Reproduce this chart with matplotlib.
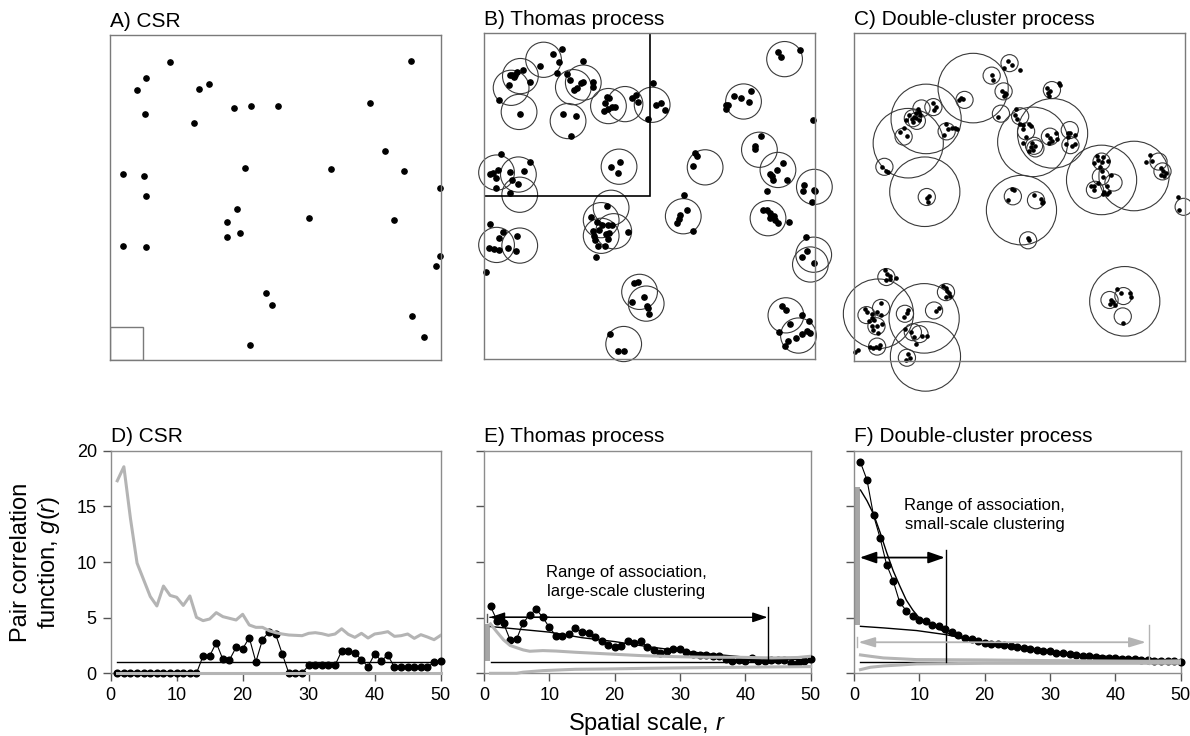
import matplotlib
matplotlib.use('Agg')
import matplotlib.pyplot as plt
from matplotlib.patches import Circle, Rectangle

plt.rcParams['font.family'] = ['Liberation Sans', 'DejaVu Sans']
plt.rcParams['mathtext.fontset'] = 'custom'
plt.rcParams['mathtext.rm'] = 'Liberation Sans'
plt.rcParams['mathtext.it'] = 'Liberation Sans:italic'

# ---------------- top row: point patterns in a 50 x 50 plot ----------------
# CSR points (also the parent points of the Thomas clusters)
csr_x = [9.0, 45.4, 5.5, 4.1, 13.5, 15.0, 18.8, 21.3, 25.4, 39.2, 5.3, 12.7, 41.6, 1.9, 5.2, 20.4, 33.4, 44.4,
         49.9, 5.4, 19.2, 30.1, 17.7, 42.9, 19.6, 17.7, 1.9, 5.4, 49.8, 49.3, 23.5, 24.5, 45.6, 47.5, 21.1]
csr_y = [45.9, 46.0, 43.4, 41.6, 41.7, 42.4, 38.8, 39.1, 39.0, 39.5, 37.9, 36.5, 32.1, 28.6, 28.3, 29.5, 29.4, 29.0,
         26.4, 25.2, 23.2, 21.9, 21.3, 21.6, 19.6, 18.9, 17.5, 17.4, 16.0, 14.5, 10.3, 8.5, 6.7, 3.6, 2.3]

thomas_x = [11.8, 10.5, 11.3, 8.5, 11.1,
            3.9, 4.3, 4.7, 5.0, 4.6, 5.9, 7.0, 3.8, 2.3,
            5.5,
            14.9, 12.5, 13.0, 14.7, 14.9, 14.0, 13.6, 16.4, 16.4,
            11.9, 13.9, 13.1,
            25.5, 18.6, 18.9, 18.3, 18.8, 18.2, 19.3, 19.8, 22.4, 23.0, 23.3,
            26.0, 26.7, 27.3, 24.8,
            20.5, 19.2, 20.2,
            2.5, 7.0, 0.9, 1.4, 2.1, 1.8, 4.0, 6.1, 4.3, 5.1, 4.0, 1.8,
            18.6, 16.1, 17.0, 17.9, 18.7, 19.3, 16.4, 17.3, 16.6, 16.7, 18.4, 18.9, 21.8, 17.2, 18.3, 16.9, 18.8,
            0.9, 2.8, 2.3, 5.0, 0.8, 1.5, 2.3, 3.7, 4.9,
            0.3,
            22.6, 23.3, 24.2, 22.4, 24.6, 24.8, 24.9,
            19.1, 20.3, 21.1,
            31.9, 32.2, 31.5,
            30.2, 30.7, 29.6, 29.5, 29.2, 31.6,
            40.3, 37.7, 38.8, 40.0, 36.5, 36.9, 36.5,
            47.7, 44.4, 44.8,
            49.7,
            41.8, 40.9, 41.0, 45.1, 44.3, 43.2, 43.5, 45.8, 43.6,
            48.3, 48.2, 49.8, 50.0, 49.6,
            42.7,
            42.2, 42.8, 43.2, 43.4, 43.8, 43.2, 44.0, 44.4, 46.0,
            48.6, 48.8, 48.1, 49.8,
            45.0, 45.6, 48.1, 49.1, 46.2, 44.5, 48.8, 49.3, 48.1, 47.2, 45.9, 45.4]
thomas_y = [47.6, 46.8, 45.6, 44.9, 43.9,
            43.5, 43.5, 43.5, 44.0, 43.3, 44.4, 42.5, 42.0, 39.8,
            37.6,
            45.7, 43.7, 42.8, 42.3, 42.5, 41.6, 41.2, 42.5, 41.7,
            37.6, 37.2, 34.2,
            42.3, 40.2, 40.0, 39.3, 38.3, 38.1, 38.7, 38.7, 40.1, 40.5, 39.4,
            38.9, 39.2, 38.2, 36.8,
            30.2, 29.5, 28.5,
            31.4, 30.2, 28.4, 28.5, 29.0, 27.7, 28.7, 28.9, 27.4, 26.9, 25.4, 26.2,
            23.4, 21.8, 21.0, 20.6, 20.5, 20.5, 19.6, 19.8, 18.8, 18.3, 19.1, 19.3, 19.5, 17.4, 17.4, 15.7, 18.4,
            20.7, 19.5, 18.6, 18.9, 17.0, 16.9, 16.7, 17.0, 16.5,
            13.3,
            11.6, 11.8, 9.5, 8.8, 8.2, 7.8, 6.9,
            3.9, 1.3, 1.2,
            31.6, 31.1, 29.6,
            25.1, 22.8, 22.1, 21.5, 20.9, 19.7,
            41.1, 40.3, 40.0, 39.4, 39.0, 38.9, 38.3,
            47.4, 47.1, 46.3,
            36.7,
            34.2, 32.6, 32.2, 30.0, 29.0, 28.4, 28.0, 27.5, 27.4,
            26.7, 25.7, 26.0, 25.8, 24.1,
            25.7,
            22.8, 22.9, 22.4, 22.0, 21.9, 21.6, 21.3, 20.9, 21.0,
            18.7, 16.5, 15.7, 14.8,
            8.2, 7.5, 6.7, 5.9, 5.4, 4.2, 4.3, 4.0, 3.9, 3.2, 2.7, 2.0]

# double-cluster process: large and small cluster circles, points
big_x = [18.0, 10.9, 8.2, 10.7, 27.0, 30.0, 37.4, 42.3, 25.3, 40.9, 3.7, 10.6, 10.8]
big_y = [41.6, 36.9, 33.2, 25.8, 33.4, 34.7, 27.6, 28.2, 23.0, 9.1, 7.2, 6.5, 0.7]
small_x = [23.5, 20.8, 22.6, 16.7, 22.2, 10.2, 12.0, 8.9, 9.5, 7.5, 14.0, 4.6, 11.0, 29.9, 25.1, 26.0, 29.6,
           27.4, 27.2, 32.6, 32.7, 37.4, 46.0, 46.6, 37.3, 39.2, 36.4, 49.8, 24.0, 27.5, 26.3, 4.9, 13.9, 1.9,
           4.1, 3.4, 7.7, 8.9, 9.9, 3.5, 8.0, 12.1, 38.6, 40.7, 40.6]
small_y = [45.4, 43.5, 41.1, 39.8, 37.7, 38.5, 38.7, 37.0, 36.6, 34.2, 35.0, 29.6, 25.0, 41.3, 37.3, 35.0, 34.2,
           32.4, 32.8, 35.2, 32.9, 30.4, 30.4, 28.9, 28.1, 27.2, 26.1, 23.5, 25.1, 24.5, 18.4, 12.8, 10.5, 7.0,
           8.1, 5.3, 7.2, 4.4, 4.1, 2.2, 0.5, 7.7, 9.3, 9.9, 6.8]
dc_x = [23.3, 23.8, 22.7, 25.1, 20.8, 21.0, 22.4, 22.8, 22.6, 23.0, 16.1, 16.4, 15.9, 21.8, 24.5, 24.3, 24.6,
        11.9, 12.4, 12.1,
        9.6, 9.8, 9.3, 10.0, 9.1, 9.4, 9.9, 8.7, 8.9, 7.8, 7.5, 6.9, 8.0, 8.3,
        13.9, 14.2, 14.8, 15.2, 15.6, 13.6,
        4.2, 4.8, 5.2,
        11.4, 11.0, 11.2,
        29.2, 29.6, 29.3, 29.5, 30.9, 31.1,
        25.1, 25.5, 26.4, 26.7, 25.5, 26.0, 25.6, 26.9, 26.7, 26.5, 27.1, 27.4,
        29.1, 29.6, 29.9, 29.4, 30.5, 30.7,
        32.3, 32.7, 32.4, 33.4, 32.1, 32.9, 33.4,
        36.7, 36.9, 36.2, 37.4, 37.6, 38.3, 37.1, 37.4, 38.8, 37.6, 36.9, 38.2, 36.2, 35.8, 36.3, 37.8, 38.2,
        37.6, 38.5,
        44.7, 44.1, 45.0, 46.3, 46.7, 47.2, 46.3, 46.8,
        49.0, 49.1,
        23.2, 23.8, 24.2,
        27.2, 28.2, 28.6, 28.4,
        26.3, 26.4,
        4.7, 5.0, 5.4, 5.5, 6.4, 4.9,
        13.5, 13.9, 14.1, 14.3, 14.5, 13.9,
        12.8, 12.4,
        8.1, 8.0, 7.6,
        1.7, 2.0, 2.8, 3.5, 4.1, 2.8, 3.1, 2.3, 4.2, 3.5, 2.7, 2.9, 3.7, 4.1,
        2.5, 2.9, 3.4, 3.8, 4.0,
        7.7, 8.6, 9.1, 10.3, 11.0, 9.4,
        0.6, 0.2,
        8.1, 8.4, 7.9,
        39.8, 40.4, 38.8, 39.2, 38.6, 39.5, 41.7, 41.9, 40.7]
dc_y = [45.7, 45.1, 44.7, 44.3, 43.6, 42.9, 41.2, 40.8, 40.4, 40.7, 40.1, 39.9, 39.8, 37.2, 38.4, 37.5, 36.9,
        39.3, 38.7, 38.3,
        38.4, 38.0, 37.8, 37.5, 37.2, 37.0, 36.8, 36.9, 36.4, 36.8, 35.5, 34.9, 34.3, 37.5,
        36.1, 35.4, 35.5, 35.5, 35.4, 34.4,
        29.5, 29.0, 28.8,
        25.1, 24.8, 24.2,
        41.6, 41.2, 40.8, 40.4, 42.3, 42.0,
        36.1, 35.9, 36.2, 35.8, 35.3, 34.2, 33.3, 33.3, 32.6, 32.0, 32.2, 32.8,
        34.5, 34.0, 33.6, 33.3, 34.7, 33.9,
        34.8, 34.7, 34.2, 34.4, 33.1, 32.7, 33.1,
        31.2, 30.6, 30.2, 30.4, 31.1, 30.5, 29.6, 28.9, 28.4, 28.1, 27.2, 26.7, 26.7, 26.6, 26.0, 25.7, 25.5,
        25.5, 25.7,
        31.4, 30.4, 30.5, 29.4, 28.9, 28.7, 28.4, 28.2,
        25.0, 23.0,
        24.5, 26.2, 26.0,
        25.3, 24.7, 24.3, 24.1,
        18.7, 18.4,
        13.8, 13.3, 12.9, 12.5, 12.6, 12.4,
        11.4, 11.2, 10.7, 10.3, 9.9, 9.8,
        8.1, 7.6,
        7.8, 7.3, 6.7,
        7.9, 7.4, 7.2, 7.5, 7.0, 6.6, 6.3, 6.1, 5.6, 5.3, 5.3, 4.7, 4.3, 8.9,
        2.1, 2.0, 2.2, 2.0, 2.4,
        4.9, 4.4, 3.6, 3.8, 3.8, 2.6,
        1.7, 1.4,
        1.0, 0.4, 0.1,
        10.9, 10.4, 9.3, 9.0, 8.7, 8.5, 10.3, 9.7, 5.8]

# ---------------- bottom row: pair correlation functions ----------------
r = list(range(1, 51))

csr_obs = [0] * 13 + [1.56, 1.56, 2.75, 1.26, 1.2, 2.33, 2.2, 3.2, 1.02, 3.02, 3.74, 3.5, 1.74,
                      0, 0, 0, 0.72, 0.72, 0.72, 0.72, 0.72, 2.0, 2.0, 1.86, 1.2, 0.6, 1.74, 1.14, 1.62,
                      0.54, 0.54, 0.54, 0.54, 0.54, 0.54, 1.0, 1.14]
csr_hi = [17.3, 18.56, 13.9, 9.9, 8.4, 6.9, 6.05, 7.84, 7.0, 6.83,
          6.1, 6.95, 5.03, 4.73, 4.88, 5.45, 5.09, 4.94, 4.79, 5.3,
          4.34, 4.13, 4.13, 3.83, 3.65, 3.53, 3.44, 3.41, 3.38, 3.59,
          3.65, 3.56, 3.41, 3.53, 4.0, 3.5, 3.23, 3.59, 3.17, 3.53,
          3.62, 3.74, 3.32, 3.38, 3.53, 3.14, 3.47, 3.26, 3.02, 3.41]
csr_lo = [0] * 50

thomas_obs = [6.02, 4.73, 4.49, 3.0, 3.08, 4.55, 5.24, 5.75, 5.03, 4.13,
              3.38, 3.32, 3.53, 4.07, 3.68, 3.59, 3.29, 2.87, 2.54, 2.34,
              2.46, 2.87, 2.69, 2.87, 2.4, 2.1, 1.86, 1.98, 2.22, 2.19,
              1.92, 1.74, 1.65, 1.62, 1.56, 1.53, 1.29, 1.11, 1.17, 1.14,
              1.41, 1.11, 1.08, 1.17, 1.2, 1.17, 0.93, 0.93, 1.14, 1.26]
thomas_fit_r = [1, 5, 10, 15, 20, 25, 30, 35, 40, 45, 50]
thomas_fit = [4.2, 3.98, 3.7, 3.2, 2.85, 2.4, 2.02, 1.72, 1.45, 1.3, 1.2]
thomas_hi_r = [1, 2, 3, 4, 6, 7, 9, 11, 14, 19, 24, 29, 34, 39, 44, 48, 50]
thomas_hi = [4.44, 3.7, 3.0, 2.5, 2.1, 1.98, 2.04, 2.0, 1.89, 1.74, 1.59, 1.5, 1.44, 1.44, 1.38, 1.42, 1.53]
thomas_lo_r = [1, 5, 6, 9, 14, 19, 24, 29, 34, 39, 44, 50]
thomas_lo = [0, 0, 0.1, 0.24, 0.36, 0.39, 0.44, 0.48, 0.51, 0.54, 0.57, 0.6]

dc_obs = [18.95, 17.37, 14.19, 12.16, 9.76, 8.32, 6.38, 5.63, 5.12, 4.82,
          4.67, 4.37, 4.22, 3.98, 3.74, 3.47, 3.2, 3.05, 2.87, 2.69,
          2.63, 2.6, 2.54, 2.49, 2.4, 2.31, 2.22, 2.13, 2.04, 1.98,
          1.86, 1.8, 1.71, 1.65, 1.59, 1.53, 1.44, 1.41, 1.38, 1.35,
          1.32, 1.29, 1.26, 1.2, 1.17, 1.14, 1.11, 1.11, 1.08, 1.05]
dc_fit_r = [1, 2, 3, 4, 5, 6, 7, 8, 9, 10, 12, 14, 16.5, 19.5, 24.6, 29.7, 34.8, 40, 45, 50]
dc_fit = [16.47, 15.5, 14.3, 12.66, 10.87, 9.22, 7.87, 6.59, 5.69, 4.97, 4.29, 3.68, 3.18, 2.73, 2.34, 1.98,
          1.68, 1.47, 1.29, 1.15]
dc_large_r = [1, 4.5, 9.6, 14, 16.5, 18]
dc_large = [4.22, 4.08, 3.84, 3.48, 3.18, 2.98]
dc_hi_r = [1, 2.5, 4.5, 9.6, 20, 30, 45, 50]
dc_hi = [1.65, 1.53, 1.38, 1.23, 1.2, 1.14, 1.08, 1.12]
dc_lo_r = [1, 2.5, 4.5, 9.6, 20, 50]
dc_lo = [0.33, 0.54, 0.66, 0.84, 0.9, 0.9]

# envelope at r < 1 (grey bar): bottom, top
thomas_bar = (1.08, 4.45)
dc_bar = (4.37, 16.77)

grey = '#b4b4b4'
frame = '#7a7a7a'

fig = plt.figure(figsize=(11.9, 7.36), dpi=100)

top_pos = [[0.0924, 0.5109, 0.2782, 0.4416],
           [0.4067, 0.5122, 0.2782, 0.4429],
           [0.7176, 0.5095, 0.2782, 0.4457]]
bot_pos = [[0.0930, 0.0852, 0.2773, 0.3024],
           [0.4067, 0.0852, 0.2745, 0.3024],
           [0.7176, 0.0852, 0.2745, 0.3024]]
top_titles = ['A) CSR', 'B) Thomas process', 'C) Double-cluster process']
bot_titles = ['D) CSR', 'E) Thomas process', 'F) Double-cluster process']

tops = []
for pos, title in zip(top_pos, top_titles):
    ax = fig.add_axes(pos)
    ax.set_xlim(0, 50)
    ax.set_ylim(0, 50)
    ax.set_xticks([])
    ax.set_yticks([])
    for s in ax.spines.values():
        s.set_color(frame)
        s.set_linewidth(1.0)
    ax.set_title(title, loc='left', fontsize=15, pad=6)
    tops.append(ax)

axA, axB, axC = tops
axA.plot(csr_x, csr_y, 'o', color='black', ms=3.8, clip_on=False)
axA.add_patch(Rectangle((0, 0), 5, 5, fill=False, ec=frame, lw=1.0))

for cx, cy in zip(csr_x, csr_y):
    axB.add_patch(Circle((cx, cy), 2.7, fill=False, ec='#3a3a3a', lw=0.8, clip_on=False))
axB.plot(thomas_x, thomas_y, 'o', color='black', ms=3.8, clip_on=False)
axB.add_patch(Rectangle((0, 25), 25, 25, fill=False, ec='black', lw=1.2))

for cx, cy in zip(big_x, big_y):
    axC.add_patch(Circle((cx, cy), 5.3, fill=False, ec='#3a3a3a', lw=0.8, clip_on=False))
for cx, cy in zip(small_x, small_y):
    axC.add_patch(Circle((cx, cy), 1.3, fill=False, ec='#3a3a3a', lw=0.8, clip_on=False))
axC.plot(dc_x, dc_y, 'o', color='black', ms=2.3, clip_on=False)

bots = []
for i, (pos, title) in enumerate(zip(bot_pos, bot_titles)):
    ax = fig.add_axes(pos)
    ax.set_xlim(0, 50)
    ax.set_ylim(0, 20)
    ax.set_xticks([0, 10, 20, 30, 40, 50])
    ax.set_yticks([0, 5, 10, 15, 20])
    if i > 0:
        ax.set_yticklabels([])
    for s in ax.spines.values():
        s.set_color('#8c8c8c')
        s.set_linewidth(1.0)
    ax.tick_params(direction='out', length=6, width=1, color='#555555', labelsize=13, pad=4)
    ax.set_title(title, loc='left', fontsize=15, pad=6)
    ax.plot(r, [1] * 50, color='black', lw=1.0, zorder=2)
    bots.append(ax)

axD, axE, axF = bots

# D) CSR
axD.plot(r, csr_obs, '-o', color='black', lw=0.8, ms=4.8, zorder=3, clip_on=False)
axD.plot(r, csr_hi, color=grey, lw=2.2, zorder=4)
axD.plot(r, csr_lo, color=grey, lw=2.2, zorder=4, clip_on=False)

# E) Thomas process
axE.bar([0.53], [thomas_bar[1] - thomas_bar[0]], bottom=[thomas_bar[0]], width=0.77, color='#a6a6a6', zorder=2)
axE.plot(r, thomas_obs, '-o', color='black', lw=0.8, ms=4.8, zorder=3, clip_on=False)
axE.plot(thomas_fit_r, thomas_fit, color='black', lw=1.0, zorder=3)
axE.plot(thomas_hi_r, thomas_hi, color=grey, lw=2.2, zorder=4)
axE.plot(thomas_lo_r, thomas_lo, color=grey, lw=2.2, zorder=4, clip_on=False)
axE.annotate('', xy=(43.4, 5.03), xytext=(0.9, 5.03),
             arrowprops=dict(arrowstyle='-|>,head_length=0.9,head_width=0.3', color='black', lw=1.0,
                             shrinkA=0, shrinkB=0), zorder=5)
axE.annotate('', xy=(0.9, 5.03), xytext=(10, 5.03),
             arrowprops=dict(arrowstyle='-|>,head_length=0.9,head_width=0.3', color='black', lw=1.0,
                             shrinkA=0, shrinkB=0), zorder=5)
axE.plot([43.5, 43.5], [0.99, 6.0], color='black', lw=1.0, zorder=5)
axE.plot([0.5, 0.5], [4.58, 5.33], color='#555555', lw=1.0, zorder=5)
axE.text(21.8, 8.2, 'Range of association,\nlarge-scale clustering', ha='center', va='center',
         fontsize=12, linespacing=1.35)

# F) Double-cluster process
axF.bar([0.53], [dc_bar[1] - dc_bar[0]], bottom=[dc_bar[0]], width=0.77, color='#a6a6a6', zorder=2)
axF.plot(r, dc_obs, '-o', color='black', lw=0.8, ms=4.8, zorder=3, clip_on=False)
axF.plot(dc_fit_r, dc_fit, color='black', lw=1.0, zorder=3)
axF.plot(dc_large_r, dc_large, color='black', lw=1.0, zorder=3)
axF.plot(dc_hi_r, dc_hi, color=grey, lw=2.2, zorder=4)
axF.plot(dc_lo_r, dc_lo, color=grey, lw=2.2, zorder=4)
axF.annotate('', xy=(13.9, 10.4), xytext=(0.9, 10.4),
             arrowprops=dict(arrowstyle='<|-|>,head_length=1.0,head_width=0.35', color='black', lw=1.3,
                             shrinkA=0, shrinkB=0), zorder=5)
axF.plot([14.1, 14.1], [0.99, 11.1], color='black', lw=1.0, zorder=5)
axF.annotate('', xy=(44.7, 2.79), xytext=(0.66, 2.79),
             arrowprops=dict(arrowstyle='<|-|>,head_length=1.0,head_width=0.3', color=grey, lw=1.3,
                             shrinkA=0, shrinkB=0), zorder=5)
axF.plot([45.15, 45.15], [0.84, 4.37], color=grey, lw=1.0, zorder=5)
axF.plot([0.4, 0.4], [2.34, 3.23], color=grey, lw=1.0, zorder=5)
axF.text(20.0, 14.2, 'Range of association,\nsmall-scale clustering', ha='center', va='center',
         fontsize=12, linespacing=1.35)

fig.text(0.0303, 0.2364, 'Pair correlation\nfunction, $g$($r$)', rotation=90, ha='center', va='center',
         multialignment='center', fontsize=17, linespacing=1.2)
fig.text(0.5437, 0.0085, 'Spatial scale, $r$', ha='center', va='baseline', fontsize=17)

fig.savefig('out.png', dpi=100)
